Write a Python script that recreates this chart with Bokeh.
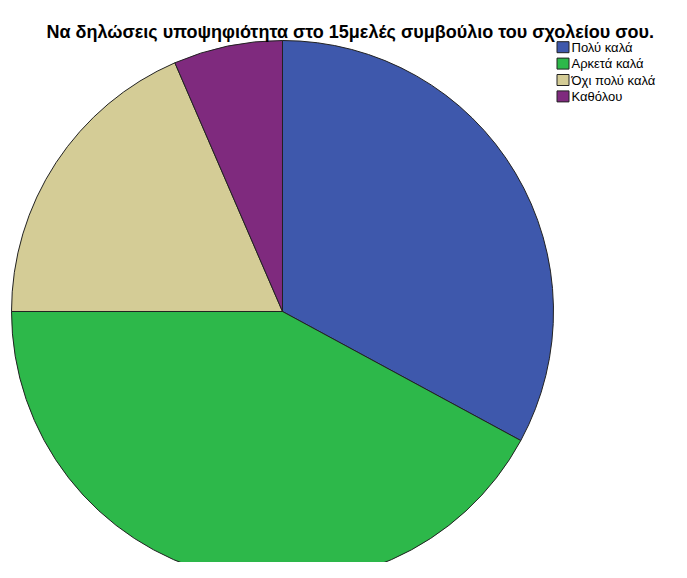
import numpy as np
from bokeh.plotting import figure
from bokeh.models import ColumnDataSource, Range1d
from bokeh.core.properties import value
from bokeh.embed import file_html
from bokeh.resources import INLINE

categories = ["Πολύ καλά", "Αρκετά καλά", "Όχι πολύ καλά", "Καθόλου"]
percent = [32.9, 42.1, 18.5, 6.5]
colors = ["#3E58AC", "#2DB84A", "#D4CC96", "#7F2A7E"]
title = "Να δηλώσεις υποψηφιότητα στο 15μελές συμβούλιο του σχολείου σου."

W, H = 671, 562
p = figure(width=W, height=H, output_backend="svg", toolbar_location=None,
           x_range=Range1d(0, W), y_range=Range1d(0, H), min_border=0)
p.axis.visible = False
p.grid.visible = False
p.outline_line_color = None

frac = np.array(percent) / sum(percent)
ends = np.cumsum(frac) * 2 * np.pi
starts = np.concatenate([[0], ends[:-1]])
start_angle = np.pi / 2 - starts
end_angle = np.pi / 2 - ends
src = ColumnDataSource(dict(start=start_angle, end=end_angle, color=colors, cat=categories))
cx, cy, r = 282, H - 311, 271
p.wedge(x=cx, y=cy, radius=r, start_angle="start", end_angle="end", direction="clock",
        fill_color="color", line_color="#222222", line_width=1, source=src)

p.text(x=[46], y=[H - 31.5], text=[title], text_font=value("Liberation Sans"),
       text_font_style="bold", text_font_size="18px", text_baseline="alphabetic",
       text_color="black")

ly = [H - 46.7 - 16.4 * i for i in range(len(categories))]
lsrc = ColumnDataSource(dict(x=[562.5] * 4, y=ly, color=colors, cat=categories))
p.rect(x="x", y="y", width=12, height=11, fill_color="color", line_color="#222222",
       line_width=1, source=lsrc)
p.text(x=[571] * 4, y=ly, text=categories, text_font=value("Liberation Sans"),
       text_font_size="13px", text_baseline="middle", text_color="black")

open("out.html", "w").write(file_html(p, INLINE))
